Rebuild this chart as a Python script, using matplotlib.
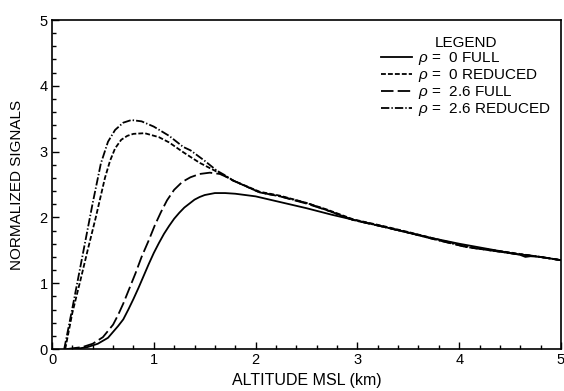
import matplotlib
matplotlib.use('Agg')
import matplotlib.pyplot as plt
from matplotlib.ticker import MultipleLocator

plt.rcParams['font.family'] = ['Liberation Sans', 'DejaVu Sans']
plt.rcParams['mathtext.fontset'] = 'custom'
plt.rcParams['mathtext.rm'] = 'Liberation Sans'
plt.rcParams['mathtext.it'] = 'Liberation Sans:italic'
plt.rcParams['lines.scale_dashes'] = False

# rho = 0, full
full0_x = [0.15, 0.25, 0.35, 0.45, 0.55, 0.6, 0.65, 0.7, 0.75, 0.8, 0.85, 0.9,
           0.95, 1.0, 1.05, 1.1, 1.15, 1.2, 1.25, 1.3, 1.35, 1.4, 1.45, 1.5, 1.6,
           1.7, 1.8, 2.0, 2.25, 2.5, 2.75, 3.0, 3.25, 3.5, 3.75, 4.0, 4.25, 4.5,
           4.6, 4.65, 4.7, 4.8, 5.0]
full0_y = [0.0, 0.005, 0.03, 0.08, 0.17, 0.26, 0.35, 0.45, 0.6, 0.76, 0.93, 1.11,
           1.29, 1.46, 1.61, 1.75, 1.87, 1.98, 2.07, 2.15, 2.21, 2.27, 2.31, 2.34, 2.37,
           2.37, 2.36, 2.32, 2.23, 2.14, 2.04, 1.95, 1.86, 1.77, 1.68, 1.6, 1.53, 1.46,
           1.43, 1.4, 1.41, 1.4, 1.35]

# rho = 0, reduced
red0_x = [0.13, 0.2, 0.28, 0.35, 0.43, 0.52, 0.57, 0.62, 0.68, 0.74, 0.8, 0.91,
          1.05, 1.15, 1.29, 1.45, 1.6, 1.7, 1.78, 2.04, 2.24, 2.5, 2.7, 2.96, 3.25,
          3.52, 3.75, 4.07, 4.3, 4.53, 4.75, 5.0]
red0_y = [0.0, 0.55, 1.05, 1.5, 2.0, 2.6, 2.86, 3.05, 3.18, 3.24, 3.27, 3.28,
          3.22, 3.14, 2.99, 2.83, 2.71, 2.63, 2.56, 2.39, 2.33, 2.22, 2.12, 1.97, 1.87,
          1.77, 1.68, 1.56, 1.51, 1.46, 1.41, 1.35]

# rho = 2.6, full
full26_x = [0.15, 0.3, 0.4, 0.5, 0.6, 0.65, 0.7, 0.76, 0.82, 0.88, 0.95, 1.01,
            1.07, 1.13, 1.2, 1.28, 1.36, 1.45, 1.55, 1.65, 1.72, 1.78, 2.04, 2.24,
            2.5, 2.7, 2.96, 3.25, 3.52, 3.75, 4.07, 4.3, 4.53, 4.75, 5.0]
full26_y = [0.0, 0.03, 0.08, 0.18, 0.37, 0.52, 0.69, 0.92, 1.15, 1.4, 1.65, 1.88,
            2.08, 2.26, 2.42, 2.54, 2.61, 2.66, 2.68, 2.66, 2.61, 2.56, 2.38, 2.32,
            2.21, 2.11, 1.96, 1.86, 1.76, 1.67, 1.55, 1.5, 1.45, 1.41, 1.35]

# rho = 2.6, reduced
red26_x = [0.12, 0.2, 0.3, 0.4, 0.48, 0.55, 0.62, 0.7, 0.78, 0.88, 1.0, 1.15,
           1.29, 1.36, 1.5, 1.62, 1.7, 1.78, 2.04, 2.24, 2.5, 2.7, 2.96, 3.25, 3.52,
           3.75, 4.07, 4.3, 4.53, 4.75, 5.0]
red26_y = [0.0, 0.62, 1.42, 2.22, 2.82, 3.15, 3.33, 3.44, 3.48, 3.46, 3.38, 3.24,
           3.07, 3.02, 2.86, 2.71, 2.64, 2.56, 2.38, 2.32, 2.22, 2.11, 1.96, 1.86, 1.76,
           1.67, 1.55, 1.5, 1.45, 1.41, 1.35]

labels = [r'$\rho$ =  0 FULL', r'$\rho$ =  0 REDUCED',
          r'$\rho$ =  2.6 FULL', r'$\rho$ =  2.6 REDUCED']

fig = plt.figure(figsize=(5.64, 3.91), dpi=100)
ax = fig.add_axes([0.0922, 0.1074, 0.9025, 0.8414])

lw = 1.3
ax.plot(full0_x, full0_y, color='black', lw=lw, linestyle='-', label=labels[0])
ax.plot(red0_x, red0_y, color='black', lw=lw, linestyle=(0, (3.5, 1.5)), label=labels[1])
ax.plot(full26_x, full26_y, color='black', lw=lw, linestyle=(0, (9, 3)), label=labels[2])
ax.plot(red26_x, red26_y, color='black', lw=lw, linestyle=(0, (6, 1.5, 1, 1.5)), label=labels[3])

ax.set_xlim(0, 5)
ax.set_ylim(0, 5)
ax.xaxis.set_major_locator(MultipleLocator(1))
ax.xaxis.set_minor_locator(MultipleLocator(0.2))
ax.yaxis.set_major_locator(MultipleLocator(1))
ax.yaxis.set_minor_locator(MultipleLocator(0.2))
ax.tick_params(which='both', direction='in', labelsize=10.5, width=1)
ax.tick_params(which='major', length=5, pad=3)
ax.tick_params(which='minor', length=3)
for sp in ax.spines.values():
    sp.set_linewidth(1.2)

ax.set_xlabel('ALTITUDE MSL (km)', fontsize=11.5, labelpad=4)
ax.set_ylabel('NORMALIZED SIGNALS', fontsize=11, labelpad=11)

leg = ax.legend(title='LEGEND', loc='upper left', bbox_to_anchor=(0.632, 0.975),
                frameon=False, fontsize=11, title_fontsize=11, handlelength=2.0,
                handletextpad=0.4, labelspacing=0.0, borderpad=0)

fig.savefig('out.png', dpi=100)
